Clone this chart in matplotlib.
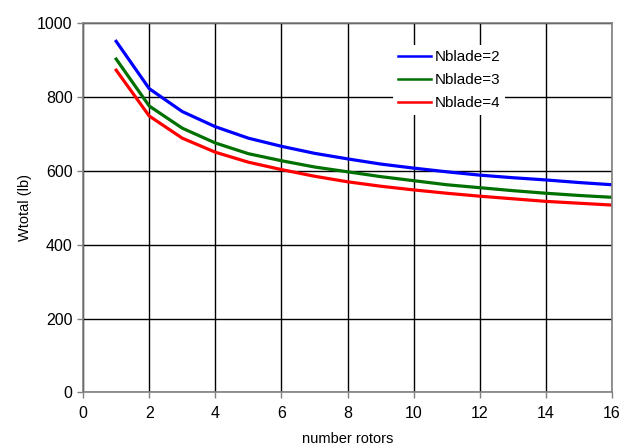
import matplotlib
matplotlib.use("Agg")
import matplotlib.pyplot as plt

plt.rcParams['font.family'] = ['Liberation Sans', 'DejaVu Sans']

rotors = list(range(1, 17))
w_blade2 = [950, 822, 760, 719, 688, 666, 647, 632, 618, 607, 597, 588, 581, 575, 568, 562]
w_blade3 = [902, 775, 715, 675, 646, 627, 610, 597, 584, 573, 562, 554, 546, 539, 533, 528]
w_blade4 = [872, 748, 688, 650, 623, 603, 585, 570, 558, 548, 539, 531, 524, 517, 512, 507]
labels = ["Nblade=2", "Nblade=3", "Nblade=4"]
colors = ["#0000ff", "#007000", "#ff0000"]

fig = plt.figure(figsize=(6.25, 4.48), dpi=100)
ax = fig.add_axes([0.133, 0.124, 0.846, 0.825])

for ys, lab, c in zip([w_blade2, w_blade3, w_blade4], labels, colors):
    ax.plot(rotors, ys, color=c, lw=2.3, label=lab, solid_joinstyle='round')

ax.set_xlim(0, 16)
ax.set_ylim(0, 1000)
ax.set_xticks(range(0, 17, 2))
ax.set_yticks(range(0, 1001, 200))
ax.grid(True, color='black', lw=1.0)
ax.set_axisbelow(True)
for s in ax.spines.values():
    s.set_color('#808080')
    s.set_linewidth(1.2)
ax.tick_params(axis='both', colors='#808080', labelcolor='black', labelsize=11.5,
               length=4, width=1)
ax.tick_params(axis='x', pad=6)
ax.set_xlabel("number rotors", fontsize=10.5, labelpad=8)
ax.set_ylabel("Wtotal (lb)", fontsize=10.5, labelpad=4)

leg = ax.legend(loc='upper left', bbox_to_anchor=(0.572, 0.96), frameon=True,
                fontsize=11, handlelength=2.2, handletextpad=0.25,
                labelspacing=0.6, borderpad=0.3)
leg.get_frame().set_edgecolor('none')
leg.get_frame().set_facecolor('white')
leg.get_frame().set_alpha(1)
for h in leg.get_lines():
    h.set_linewidth(1.8)

fig.savefig("out.png", dpi=100)
